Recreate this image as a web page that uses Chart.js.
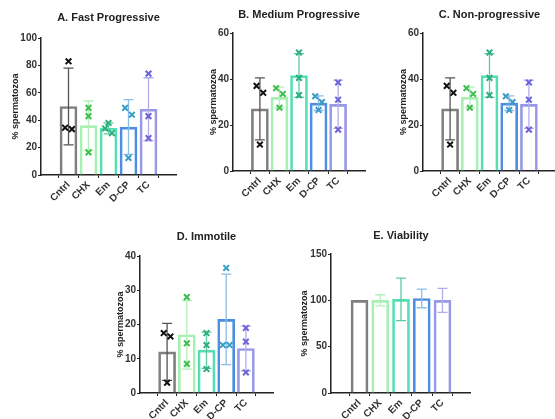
<!DOCTYPE html>
<html>
<head>
<meta charset="utf-8">
<script src="https://cdn.jsdelivr.net/npm/chart.js@4.4.1/dist/chart.umd.min.js"></script>
<style>
  html, body { margin: 0; padding: 0; background: #fff; overflow: hidden; width: 555px; height: 419px; }
  canvas { position: absolute; }
</style>
</head>
<body>
<canvas id="fast"></canvas>
<canvas id="medium"></canvas>
<canvas id="nonprog"></canvas>
<canvas id="immotile"></canvas>
<canvas id="viability"></canvas>
<script>
const groups = ['Cntrl', 'CHX', 'Em', 'D-CP', 'TC'];

// A. Fast Progressive
const fastMean = [50, 36, 34, 35, 48];
const fastSd = [28, 18, 4, 20, 23];
const fastPoints = [[83, 34.5, 33.5], [49, 43, 16.5], [38, 34, 30.5], [49, 44, 12.5], [74, 43, 27]];
const fastTicks = [0, 20, 40, 60, 80, 100];

// B. Medium Progressive
const mediumMean = [27, 32, 41.5, 29.5, 29];
const mediumSd = [13.5, 4.5, 9.5, 3.2, 10.5];
const mediumPoints = [[37, 34, 11.5], [36, 33.5, 27.5], [51.5, 40.5, 33], [32.5, 30, 26.5], [38.5, 31, 18]];
const mediumTicks = [0, 20, 40, 60];

// C. Non-progressive
const nonMean = [27, 32, 41.5, 29.5, 29];
const nonSd = [13.5, 4.5, 9.5, 3.2, 10.5];
const nonPoints = [[37, 34, 11.5], [36, 33.5, 27.5], [51.5, 40.5, 33], [32.5, 30, 26.5], [38.5, 31, 18]];
const nonTicks = [0, 20, 40, 60];

// D. Immotile
const immotileMean = [12, 17, 12.5, 21.5, 13];
const immotileSd = [8.3, 10, 5.3, 13.2, 6.5];
const immotilePoints = [[17.5, 16.5, 3], [28, 14.5, 8.5], [17.5, 14, 7], [36.5, 14, 14], [19, 15, 6]];
const immotileTicks = [0, 10, 20, 30, 40];

// E. Viability
const viabilityMean = [100, 100, 101, 102, 100];
const viabilitySd = [0, 6, 23, 10, 13];
const viabilityTicks = [0, 50, 100, 150];

const barColors = ['#7f7f7f', '#a6f0b2', '#54dfb2', '#4d8ee0', '#9898e6'];
const errColors = ['#555555', '#b4f0bd', '#5ccaa4', '#8bbde6', '#aeaeec'];
const markColors = ['#111111', '#3dbf4c', '#2fae7e', '#3a9dc8', '#6f63d8'];

Chart.defaults.font.family = "'Liberation Sans', Arial, sans-serif";
Chart.defaults.font.weight = 'bold';
Chart.defaults.color = '#333';

// spread overlapping replicate points sideways, like a prism scatter
function spread(vals, ymax) {
  const gap = ymax * 0.055, d = 0.17;
  const order = vals.map((v, i) => i).sort((a, b) => vals[b] - vals[a]);
  const off = vals.map(() => 0);
  let i = 0;
  while (i < order.length) {
    let j = i;
    while (j + 1 < order.length && vals[order[j]] - vals[order[j + 1]] < gap) j++;
    const n = j - i + 1;
    const pattern = n === 2 ? [-d, d] : n === 3 ? [0, -d, d] : [0];
    for (let k = 0; k < n; k++) off[order[i + k]] = pattern[k] || 0;
    i = j + 1;
  }
  return off;
}

const errorBars = {
  id: 'errorBars',
  afterDatasetDraw(chart, args) {
    const ds = chart.data.datasets[args.index];
    if (!ds.sd) return;
    const ctx = chart.ctx, y = chart.scales.y;
    ctx.save();
    ctx.lineWidth = 1.3;
    args.meta.data.forEach((bar, i) => {
      const s = ds.sd[i];
      if (!s) return;
      const m = ds.data[i].y;
      const top = y.getPixelForValue(m + s), bot = y.getPixelForValue(m - s);
      ctx.strokeStyle = errColors[i];
      ctx.beginPath();
      ctx.moveTo(bar.x, top); ctx.lineTo(bar.x, bot);
      ctx.moveTo(bar.x - 5, top); ctx.lineTo(bar.x + 5, top);
      ctx.moveTo(bar.x - 5, bot); ctx.lineTo(bar.x + 5, bot);
      ctx.stroke();
    });
    ctx.restore();
  }
};

function drawPanel(p) {
  const cv = document.getElementById(p.id);
  cv.width = p.box[2]; cv.height = p.box[3];
  cv.style.left = p.box[0] + 'px'; cv.style.top = p.box[1] + 'px';
  const ymax = p.ticks[p.ticks.length - 1];

  const datasets = [];
  if (p.points) {
    const pts = [], cols = [];
    p.points.forEach((vals, g) => {
      const off = spread(vals, ymax);
      vals.forEach((v, k) => { pts.push({ x: g + off[k], y: v }); cols.push(markColors[g]); });
    });
    datasets.push({
      type: 'scatter', data: pts, pointStyle: 'crossRot', pointRadius: 4,
      pointBorderWidth: 2, pointBorderColor: cols, pointBackgroundColor: cols
    });
  }
  datasets.push({
    type: 'bar', data: groups.map((g, i) => ({ x: i, y: p.mean[i] })), sd: p.sd,
    backgroundColor: 'rgba(255,255,255,0)', borderColor: barColors, borderWidth: 2, barThickness: 17
  });

  new Chart(cv, {
    type: 'bar',
    data: { datasets },
    plugins: [errorBars],
    options: {
      responsive: false, animation: false, events: [],
      layout: { padding: 0 },
      plugins: {
        legend: { display: false }, tooltip: { enabled: false },
        title: {
          display: true, text: p.title, fullSize: false, color: '#222',
          font: { size: 11, weight: 'bold' }, padding: { top: p.titlePad[0], bottom: p.titlePad[1] }
        }
      },
      scales: {
        x: {
          type: 'linear', min: -0.7, max: 4.7,
          afterBuildTicks: s => { s.ticks = groups.map((g, i) => ({ value: i })); },
          afterFit: s => { s.height = p.xH; },
          ticks: { autoSkip: false, minRotation: 45, maxRotation: 45, padding: 1,
                   font: { size: 10, weight: 'bold' }, callback: v => groups[v] },
          grid: { drawOnChartArea: false, drawTicks: true, tickLength: 3, tickColor: '#222', tickWidth: 1 },
          border: { color: '#222', width: 1.5 }
        },
        y: {
          min: p.ticks[0], max: ymax,
          afterBuildTicks: s => { s.ticks = p.ticks.map(v => ({ value: v })); },
          afterFit: s => { s.width = p.yW; },
          ticks: { padding: 1, font: { size: 10, weight: 'bold' } },
          grid: { drawOnChartArea: false, drawTicks: true, tickLength: 3, tickColor: '#222', tickWidth: 1 },
          border: { color: '#222', width: 1.5 },
          title: { display: true, text: '% spermatozoa', color: '#222',
                   font: { size: 9, weight: 'bold' }, padding: { top: 4, bottom: 0 } }
        }
      }
    }
  });
}

[
  { id: 'fast', title: 'A. Fast Progressive', mean: fastMean, sd: fastSd, points: fastPoints, ticks: fastTicks,
    box: [6, 0, 176, 215], yW: 35, titlePad: [11.4, 13.4], xH: 40 },
  { id: 'medium', title: 'B. Medium Progressive', mean: mediumMean, sd: mediumSd, points: mediumPoints, ticks: mediumTicks,
    box: [204, 0, 167, 211], yW: 29, titlePad: [8.4, 11.4], xH: 40 },
  { id: 'nonprog', title: 'C. Non-progressive', mean: nonMean, sd: nonSd, points: nonPoints, ticks: nonTicks,
    box: [394, 0, 168, 211], yW: 29, titlePad: [8.4, 11.4], xH: 40 },
  { id: 'immotile', title: 'D. Immotile', mean: immotileMean, sd: immotileSd, points: immotilePoints, ticks: immotileTicks,
    box: [111, 215, 168, 204], yW: 29, titlePad: [15.1, 12.7], xH: 26 },
  { id: 'viability', title: 'E. Viability', mean: viabilityMean, sd: viabilitySd, points: null, ticks: viabilityTicks,
    box: [295, 215, 176, 204], yW: 36, titlePad: [14.1, 11.7], xH: 26 }
].forEach(drawPanel);
</script>
</body>
</html>
